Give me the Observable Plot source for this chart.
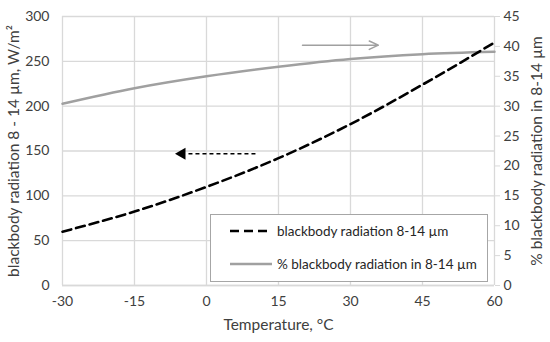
<!DOCTYPE html>
<html><head><meta charset="utf-8">
<script src="https://cdn.jsdelivr.net/npm/d3@7"></script>
<script src="https://cdn.jsdelivr.net/npm/@observablehq/plot@0.6"></script>
<style>
body{margin:0;background:#fff;font-family:Lato,"Open Sans",sans-serif;}
#wrap{position:relative;width:550px;height:342px;}
#legend{position:absolute;left:210px;top:214px;width:276px;height:66px;border:1.5px solid #a6a6a6;background:#fff;font-size:13.5px;color:#262626;}
.item{position:absolute;left:18px;display:flex;align-items:center;}
.item svg{margin-right:4px;}
</style></head>
<body><div id="wrap"><div id="legend"></div></div>
<script>
const temps = [-30, -15, 0, 15, 30, 45, 60];
const radiation = [60, 82.5, 110, 142, 180, 224, 271];
const percent = [30.4, 33.0, 35.0, 36.6, 37.9, 38.7, 39.1];
const xTicks = [-30, -15, 0, 15, 30, 45, 60];
const leftTicks = [0, 50, 100, 150, 200, 250, 300];
const rightTicks = [0, 5, 10, 15, 20, 25, 30, 35, 40, 45];
const grayArrow = {x1: 20, x2: 35.8, y: 40.2};   // right-axis units
const blackArrow = {x1: 10.2, x2: -6.3, y: 147}; // left-axis units
const seriesNames = ["blackbody radiation 8-14 µm", "% blackbody radiation in 8-14 µm"];

const k = 300 / 45;
const rad = temps.map((t, i) => ({t, v: radiation[i]}));
const pct = temps.map((t, i) => ({t, v: percent[i] * k}));
const gray = "#a0a0a0";
const txt = "#404040";

const chart = Plot.plot({
  width: 550, height: 342,
  marginLeft: 62, marginRight: 56, marginTop: 16, marginBottom: 57,
  style: {fontFamily: "Lato, 'Open Sans', sans-serif", fontSize: "13px", color: txt},
  x: {domain: [-30, 60]},
  y: {domain: [0, 300]},
  marks: [
    Plot.gridX(xTicks, {stroke: "#d9d9d9", strokeOpacity: 1, strokeWidth: 1.3}),
    Plot.gridY(leftTicks, {stroke: "#d9d9d9", strokeOpacity: 1, strokeWidth: 1.3}),
    Plot.ruleY([0], {stroke: "#d9d9d9", strokeWidth: 1.3}),
    Plot.axisX(xTicks, {tickSize: 0, tickPadding: 11, label: null, fill: txt, fontSize: 14, tickFormat: d => String(d)}),
    Plot.axisY(leftTicks, {tickSize: 0, tickPadding: 13, label: null, fill: txt, fontSize: 14, tickFormat: d => String(d)}),
    Plot.axisY(rightTicks.map(d => d * k), {anchor: "right", tickSize: 5, tickPadding: 4, stroke: "#d9d9d9", label: null, fill: txt, fontSize: 14, tickFormat: d => String(Math.round(d / k))}),
    Plot.line(pct, {x: "t", y: "v", stroke: gray, strokeWidth: 2.5, curve: "monotone-x"}),
    Plot.line(rad, {x: "t", y: "v", stroke: "#000", strokeWidth: 2.6, strokeDasharray: "9,5", curve: "monotone-x"}),
    Plot.arrow([grayArrow], {x1: "x1", x2: "x2", y1: d => d.y * k, y2: d => d.y * k, stroke: gray, strokeWidth: 1.5, headLength: 10, headAngle: 50}),
    Plot.link([blackArrow], {x1: "x1", x2: d => d.x2 + 2.2, y1: "y", y2: "y", stroke: "#000", strokeWidth: 1.5, strokeDasharray: "4,3"}),
    Plot.dot([blackArrow], {x: d => d.x2 + 1.2, y: "y", symbol: "triangle", r: 4.5, fill: "#000", rotate: -90}),
    Plot.text(["Temperature, °C"], {frameAnchor: "bottom", dy: 44, fill: txt, fontSize: 15.5, textAnchor: "middle"}),
    Plot.text(["blackbody radiation 8 - 14 µm, W/m²"], {frameAnchor: "left", dx: -48, rotate: -90, fill: txt, fontSize: 15.5, textAnchor: "middle"}),
    Plot.text(["% blackbody radiation in 8-14 µm"], {frameAnchor: "right", dx: 43, rotate: -90, fill: txt, fontSize: 15.5, textAnchor: "middle"})
  ]
});
document.getElementById("wrap").prepend(chart);

const legend = document.getElementById("legend");
const styles = [{dash: "9,5", color: "#000", w: 2.6}, {dash: null, color: gray, w: 2.5}];
seriesNames.forEach((name, i) => {
  const div = document.createElement("div");
  div.className = "item";
  div.style.top = (i === 0 ? 8 : 41) + "px";
  const s = styles[i];
  div.innerHTML = `<svg width="44" height="16"><line x1="1" x2="43" y1="8" y2="8" stroke="${s.color}" stroke-width="${s.w}" ${s.dash ? `stroke-dasharray="${s.dash}"` : ""}/></svg><span>${name}</span>`;
  legend.appendChild(div);
});
</script></body></html>
